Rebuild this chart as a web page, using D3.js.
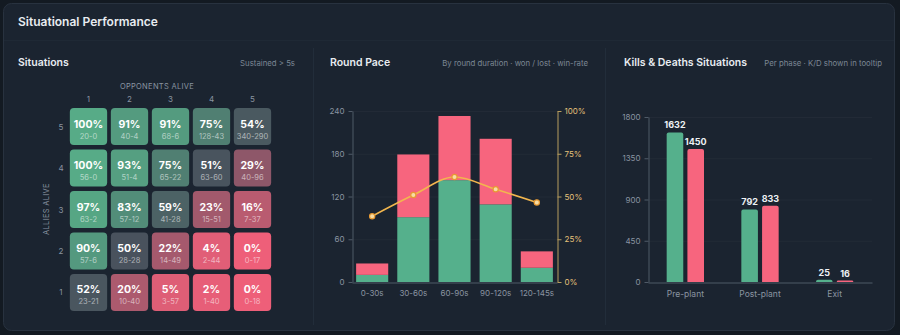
<!DOCTYPE html>
<html>
<head>
<meta charset="utf-8">
<script src="https://cdn.jsdelivr.net/npm/d3@7"></script>
<style>
  body { margin: 0; background: #131a22; font-family: Inter, "Noto Sans", sans-serif; }
  .axis text { font-family: Inter, "Noto Sans", sans-serif; }
</style>
</head>
<body>
<svg id="chart" width="900" height="335"></svg>
<script>
// DATA
var oppCounts = [1, 2, 3, 4, 5];
var allyCounts = [5, 4, 3, 2, 1];
var sitPct = [
  [100, 91, 91, 75, 54],
  [100, 93, 75, 51, 29],
  [97, 83, 59, 23, 16],
  [90, 50, 22, 4, 0],
  [52, 20, 5, 2, 0]
];
var sitRecord = [
  ['20-0', '40-4', '68-6', '128-43', '340-290'],
  ['56-0', '51-4', '65-22', '63-60', '40-96'],
  ['63-2', '57-12', '41-28', '15-51', '7-37'],
  ['57-6', '28-28', '14-49', '2-44', '0-17'],
  ['23-21', '10-40', '3-57', '1-40', '0-18']
];

var paceBuckets = ['0-30s', '30-60s', '60-90s', '90-120s', '120-145s'];
var paceWon = [10, 91, 143, 109, 20];
var paceLost = [16, 88, 90, 92, 23];
var paceTicks = [0, 60, 120, 180, 240];
var rateTicks = [0, 0.25, 0.5, 0.75, 1];

var phases = ['Pre-plant', 'Post-plant', 'Exit'];
var kills = [1632, 792, 25];
var deaths = [1450, 833, 16];
var kdTicks = [0, 450, 900, 1350, 1800];

var GREEN = '#55b08c', PINK = '#f7657e', GOLD = '#f2b64e';
var MUTED = '#8a94a1', AXIS = '#4f5a67';

var svg = d3.select('#chart');

// card
svg.append('rect')
  .attr('x', 3.5).attr('y', 3.5).attr('width', 891).attr('height', 327)
  .attr('rx', 8).attr('fill', '#1b2430').attr('stroke', '#28323f');

svg.append('text').attr('x', 18).attr('y', 26)
  .attr('fill', '#e8ecf1').attr('font-size', 12).attr('font-weight', 600)
  .text('Situational Performance');

svg.append('line').attr('x1', 4).attr('x2', 894).attr('y1', 40.5).attr('y2', 40.5)
  .attr('stroke', '#1f2935');

// panel separators
[313.5, 605.5].forEach(function(x) {
  svg.append('line').attr('x1', x).attr('x2', x).attr('y1', 48).attr('y2', 325)
    .attr('stroke', '#222d3a');
});

function panelHeader(x, xr, title, sub) {
  svg.append('text').attr('x', x).attr('y', 66)
    .attr('fill', '#e8ecf1').attr('font-size', 10.5).attr('font-weight', 600)
    .text(title);
  svg.append('text').attr('x', xr).attr('y', 66).attr('text-anchor', 'end')
    .attr('fill', '#7c8794').attr('font-size', 7.8)
    .text(sub);
}
panelHeader(18, 295, 'Situations', 'Sustained > 5s');
panelHeader(330, 588, 'Round Pace', 'By round duration \u00b7 won / lost \u00b7 win-rate');
panelHeader(624, 882, 'Kills & Deaths Situations', 'Per phase \u00b7 K/D shown in tooltip');

function styleAxis(g, color, textColor) {
  g.selectAll('.domain').attr('stroke', color);
  g.selectAll('.tick line').attr('stroke', color);
  g.selectAll('.tick text').attr('fill', textColor).attr('font-size', 8);
}

// HEATMAP
var hx = d3.scaleBand().domain(oppCounts).range([68, 273]).paddingInner(0.09).paddingOuter(0.045);
var hy = d3.scaleBand().domain(allyCounts).range([106, 313]).paddingInner(0.11).paddingOuter(0.05);
var heatColor = d3.scaleLinear().domain([0, 50, 100])
  .range(['#ee5f79', '#49525d', '#57ab87']);

var heat = svg.append('g');
heat.append('text').attr('x', 157).attr('y', 89).attr('text-anchor', 'middle')
  .attr('fill', MUTED).attr('font-size', 7.5).attr('letter-spacing', 0.3)
  .text('OPPONENTS ALIVE');
heat.append('text').attr('transform', 'translate(49,209) rotate(-90)')
  .attr('text-anchor', 'middle').attr('fill', MUTED).attr('font-size', 7.5)
  .attr('letter-spacing', 0.3).text('ALLIES ALIVE');

oppCounts.forEach(function(c) {
  heat.append('text').attr('x', hx(c) + hx.bandwidth() / 2).attr('y', 102)
    .attr('text-anchor', 'middle').attr('fill', MUTED).attr('font-size', 8).text(c);
});
allyCounts.forEach(function(r) {
  heat.append('text').attr('x', 61).attr('y', hy(r) + hy.bandwidth() / 2 + 3)
    .attr('text-anchor', 'middle').attr('fill', MUTED).attr('font-size', 8).text(r);
});

allyCounts.forEach(function(r, i) {
  oppCounts.forEach(function(c, j) {
    var cx = hx(c), cy = hy(r);
    var g = heat.append('g');
    g.append('rect').attr('x', cx).attr('y', cy)
      .attr('width', hx.bandwidth()).attr('height', hy.bandwidth())
      .attr('rx', 4).attr('fill', heatColor(sitPct[i][j]));
    g.append('text').attr('x', cx + hx.bandwidth() / 2).attr('y', cy + hy.bandwidth() / 2 + 1)
      .attr('text-anchor', 'middle').attr('fill', '#ffffff')
      .attr('font-size', 10.5).attr('font-weight', 700)
      .text(sitPct[i][j] + '%');
    g.append('text').attr('x', cx + hx.bandwidth() / 2).attr('y', cy + hy.bandwidth() / 2 + 12)
      .attr('text-anchor', 'middle').attr('fill', 'rgba(255,255,255,0.55)')
      .attr('font-size', 7.5)
      .text(sitRecord[i][j]);
  });
});

// ROUND PACE
var px = d3.scaleBand().domain(paceBuckets).range([352, 557]).paddingInner(0.22).paddingOuter(0.1);
var py = d3.scaleLinear().domain([0, 240]).range([282, 111]);
var pr = d3.scaleLinear().domain([0, 1]).range([282, 111]);

var pace = svg.append('g');
pace.selectAll('.grid').data(paceTicks.slice(1)).enter().append('line')
  .attr('x1', 352).attr('x2', 557).attr('y1', function(d) { return py(d) + 0.5; })
  .attr('y2', function(d) { return py(d) + 0.5; })
  .attr('stroke', 'rgba(255,255,255,0.03)');

pace.selectAll('.won').data(paceBuckets).enter().append('rect')
  .attr('x', function(d) { return px(d); })
  .attr('width', px.bandwidth())
  .attr('y', function(d, i) { return py(paceWon[i]); })
  .attr('height', function(d, i) { return py(0) - py(paceWon[i]); })
  .attr('fill', GREEN);
pace.selectAll('.lost').data(paceBuckets).enter().append('rect')
  .attr('x', function(d) { return px(d); })
  .attr('width', px.bandwidth())
  .attr('y', function(d, i) { return py(paceWon[i] + paceLost[i]); })
  .attr('height', function(d, i) { return py(paceWon[i]) - py(paceWon[i] + paceLost[i]); })
  .attr('fill', PINK);

var yl = pace.append('g').attr('class', 'axis').attr('transform', 'translate(352.5,0)')
  .call(d3.axisLeft(py).tickValues(paceTicks).tickSize(4).tickSizeOuter(0).tickPadding(4));
styleAxis(yl, AXIS, MUTED);
var yrA = pace.append('g').attr('class', 'axis').attr('transform', 'translate(557.5,0)')
  .call(d3.axisRight(pr).tickValues(rateTicks).tickSize(4).tickSizeOuter(0).tickPadding(3)
    .tickFormat(d3.format('.0%')));
styleAxis(yrA, '#b89d5e', '#e6c27a');
var xp = pace.append('g').attr('class', 'axis').attr('transform', 'translate(0,282.5)')
  .call(d3.axisBottom(px).tickSize(0).tickPadding(8));
styleAxis(xp, AXIS, MUTED);

var rates = paceBuckets.map(function(d, i) { return paceWon[i] / (paceWon[i] + paceLost[i]); });
var rateLine = d3.line()
  .x(function(d, i) { return px(paceBuckets[i]) + px.bandwidth() / 2; })
  .y(function(d) { return pr(d); })
  .curve(d3.curveMonotoneX);
pace.append('path').datum(rates).attr('d', rateLine)
  .attr('fill', 'none').attr('stroke', GOLD).attr('stroke-width', 1.6);
pace.selectAll('.pt').data(rates).enter().append('circle')
  .attr('cx', function(d, i) { return px(paceBuckets[i]) + px.bandwidth() / 2; })
  .attr('cy', function(d) { return pr(d); })
  .attr('r', 2.6).attr('fill', '#f7dca4').attr('stroke', '#e89a33').attr('stroke-width', 1.2);

// KILLS & DEATHS
var kx = d3.scaleBand().domain(phases).range([648, 872]).paddingInner(0.5).paddingOuter(0.25);
var kx1 = d3.scaleBand().domain(['kills', 'deaths']).range([0, kx.bandwidth()]).paddingInner(0.2);
var ky = d3.scaleLinear().domain([0, 1800]).range([282, 117]);

var kd = svg.append('g');
kd.selectAll('.grid').data(kdTicks.slice(1)).enter().append('line')
  .attr('x1', 648).attr('x2', 872).attr('y1', function(d) { return ky(d) + 0.5; })
  .attr('y2', function(d) { return ky(d) + 0.5; })
  .attr('stroke', 'rgba(255,255,255,0.03)');

function topRounded(x, y, w, h, r) {
  r = Math.min(r, h, w / 2);
  return 'M' + x + ',' + (y + h) + 'V' + (y + r) + 'Q' + x + ',' + y + ' ' + (x + r) + ',' + y +
    'H' + (x + w - r) + 'Q' + (x + w) + ',' + y + ' ' + (x + w) + ',' + (y + r) + 'V' + (y + h) + 'Z';
}

var kdSeries = [{ key: 'kills', vals: kills, color: GREEN }, { key: 'deaths', vals: deaths, color: PINK }];
kdSeries.forEach(function(s) {
  kd.selectAll('.b-' + s.key).data(phases).enter().append('path')
    .attr('d', function(d, i) {
      var x = kx(d) + kx1(s.key), y = ky(s.vals[i]);
      return topRounded(x, y, kx1.bandwidth(), ky(0) - y, 2);
    })
    .attr('fill', s.color);
  kd.selectAll('.l-' + s.key).data(phases).enter().append('text')
    .attr('x', function(d) { return kx(d) + kx1(s.key) + kx1.bandwidth() / 2; })
    .attr('y', function(d, i) { return ky(s.vals[i]) - 4; })
    .attr('text-anchor', 'middle').attr('fill', '#eef1f4')
    .attr('font-size', 9).attr('font-weight', 700)
    .text(function(d, i) { return s.vals[i]; });
});

var kyA = kd.append('g').attr('class', 'axis').attr('transform', 'translate(648.5,0)')
  .call(d3.axisLeft(ky).tickValues(kdTicks).tickSize(4).tickSizeOuter(0).tickPadding(4)
    .tickFormat(d3.format('d')));
styleAxis(kyA, AXIS, MUTED);
var kxA = kd.append('g').attr('class', 'axis').attr('transform', 'translate(0,282.5)')
  .call(d3.axisBottom(kx).tickSize(0).tickPadding(8));
styleAxis(kxA, AXIS, MUTED);
kxA.selectAll('.tick text').attr('font-size', 8.5);
</script>
</body>
</html>
